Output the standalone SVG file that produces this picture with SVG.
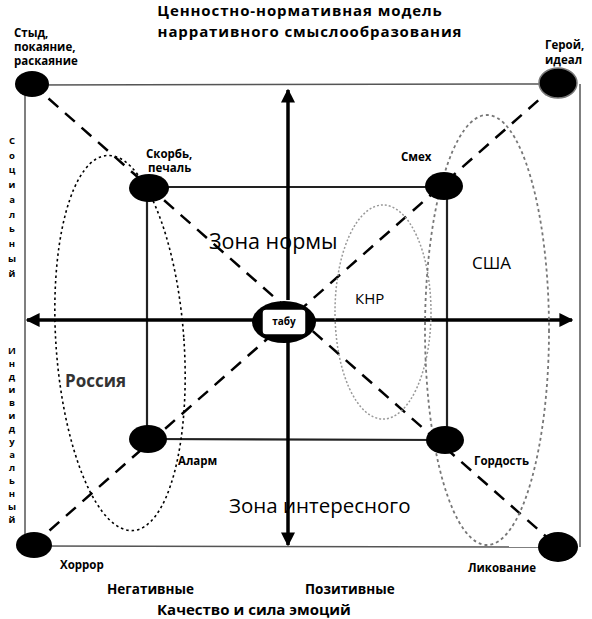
<svg xmlns="http://www.w3.org/2000/svg" width="592" height="619" viewBox="0 0 592 619">
<style>
.t{font-family:"Open Sans","DejaVu Sans",sans-serif;fill:#000}
.b{font-weight:bold}
.sm{font-size:11.5px;font-weight:bold}
.vt{font-size:9.5px;font-weight:bold}
.frame{stroke:#555;stroke-width:1.5;fill:none}
.sq{stroke:#222;stroke-width:2.2;fill:none}
.axis{stroke:#000;stroke-width:3.5;fill:none}
.diag{stroke:#000;stroke-width:2.5;stroke-dasharray:13 9;fill:none}
.node{fill:#000}
</style>
<defs>
<marker id="ah" viewBox="0 0 10 10" refX="9" refY="5" markerWidth="4" markerHeight="4" orient="auto" markerUnits="strokeWidth">
<path d="M0,0 L10,5 L0,10 z" fill="#000"/>
</marker>
</defs>
<rect width="592" height="619" fill="#fff"/>
<g id="connectors">
<line class="frame" x1="25" y1="85" x2="558" y2="84"/>
<line class="frame" x1="25" y1="85" x2="25" y2="546"/>
<line class="frame" x1="580" y1="84" x2="580" y2="547"/>
<line class="frame" x1="33" y1="546" x2="558" y2="547"/>
<line class="sq" x1="148" y1="187" x2="445" y2="187"/>
<line class="sq" x1="147" y1="188" x2="147" y2="438"/>
<line class="sq" x1="447" y1="186" x2="447" y2="440"/>
<line class="sq" x1="148" y1="439" x2="445" y2="440"/>
<line class="diag" x1="32" y1="84" x2="558" y2="547"/>
<line class="diag" x1="33" y1="545" x2="558" y2="83"/>
<line class="axis" x1="288" y1="300" x2="288" y2="90" marker-end="url(#ah)"/>
<line class="axis" x1="288" y1="340" x2="288" y2="545" marker-end="url(#ah)"/>
<line class="axis" x1="255" y1="320" x2="27" y2="320" marker-end="url(#ah)"/>
<line class="axis" x1="315" y1="320" x2="572" y2="320" marker-end="url(#ah)"/>
<ellipse cx="120" cy="343" rx="64" ry="188" fill="none" stroke="#000" stroke-width="1.6" stroke-dasharray="2.5 3" transform="rotate(-4 120 343)"/>
<ellipse cx="383" cy="312" rx="48" ry="107" fill="none" stroke="#999" stroke-width="1.5" stroke-dasharray="2 2"/>
<ellipse cx="487" cy="330" rx="62" ry="215" fill="none" stroke="#777" stroke-width="1.8" stroke-dasharray="3 3"/>
</g>
<g id="n-tl"><ellipse class="node" cx="32" cy="84" rx="17" ry="13"/></g>
<g id="n-tr"><ellipse class="node" cx="558" cy="83" rx="19" ry="15" stroke="#777" stroke-width="1.5"/></g>
<g id="n-bl"><ellipse class="node" cx="34" cy="545" rx="18" ry="13"/></g>
<g id="n-br"><ellipse class="node" cx="558" cy="547" rx="20" ry="15"/></g>
<g id="n-itl"><ellipse class="node" cx="149" cy="188" rx="20" ry="14"/></g>
<g id="n-itr"><ellipse class="node" cx="444" cy="186" rx="19" ry="14"/></g>
<g id="n-ibl"><ellipse class="node" cx="148" cy="439" rx="19" ry="14"/></g>
<g id="n-ibr"><ellipse class="node" cx="445" cy="440" rx="19" ry="14"/></g>
<g id="n-center">
<ellipse class="node" cx="284" cy="322" rx="32" ry="21"/>
<rect x="262" y="309" width="44" height="26" rx="4" fill="#fff" stroke="#000" stroke-width="1.5"/>
<text class="t b" x="284" y="325" font-size="10" text-anchor="middle">табу</text>
</g>
<g id="labels">
<text class="t b" x="300" y="16" font-size="15" letter-spacing="0.9" text-anchor="middle">Ценностно-нормативная модель</text>
<text class="t b" x="310" y="37" font-size="15" letter-spacing="0.9" text-anchor="middle">нарративного смыслообразования</text>
<text class="t sm" x="14" y="37">Стыд,</text>
<text class="t sm" x="14" y="51">покаяние,</text>
<text class="t sm" x="14" y="65">раскаяние</text>
<text class="t sm" x="545" y="49">Герой,</text>
<text class="t sm" x="545" y="64">идеал</text>
<text class="t sm" x="146" y="158">Скорбь,</text>
<text class="t sm" x="148" y="172">печаль</text>
<text class="t sm" x="401" y="161">Смех</text>
<text class="t sm" x="178" y="465">Аларм</text>
<text class="t sm" x="474" y="465">Гордость</text>
<text class="t sm" x="60" y="569">Хоррор</text>
<text class="t sm" x="468" y="572">Ликование</text>
<text class="t b" x="107" y="594" font-size="13.5">Негативные</text>
<text class="t b" x="305" y="594" font-size="13.5">Позитивные</text>
<text class="t b" x="157" y="615" font-size="15">Качество и сила эмоций</text>
<text class="t" x="209" y="249" font-size="21.5">Зона нормы</text>
<text class="t" x="229" y="513" font-size="20.5">Зона интересного</text>
<text class="t" x="472" y="269" font-size="17">США</text>
<text class="t" x="355" y="304" font-size="15">КНР</text>
<text class="t b" x="65" y="387" font-size="17" style="fill:#333">Россия</text>
<text class="t vt" text-anchor="middle"><tspan x="12" y="144">С</tspan><tspan x="12" y="159">о</tspan><tspan x="12" y="173">ц</tspan><tspan x="12" y="188">и</tspan><tspan x="12" y="203">а</tspan><tspan x="12" y="218">л</tspan><tspan x="12" y="232">ь</tspan><tspan x="12" y="247">н</tspan><tspan x="12" y="262">ы</tspan><tspan x="12" y="277">й</tspan></text>
<text class="t vt" text-anchor="middle"><tspan x="12" y="354">И</tspan><tspan x="12" y="367">н</tspan><tspan x="12" y="380">д</tspan><tspan x="12" y="393">и</tspan><tspan x="12" y="406">в</tspan><tspan x="12" y="419">и</tspan><tspan x="12" y="432">д</tspan><tspan x="12" y="445">у</tspan><tspan x="12" y="458">а</tspan><tspan x="12" y="471">л</tspan><tspan x="12" y="484">ь</tspan><tspan x="12" y="497">н</tspan><tspan x="12" y="510">ы</tspan><tspan x="12" y="523">й</tspan></text>
</g>
</svg>
